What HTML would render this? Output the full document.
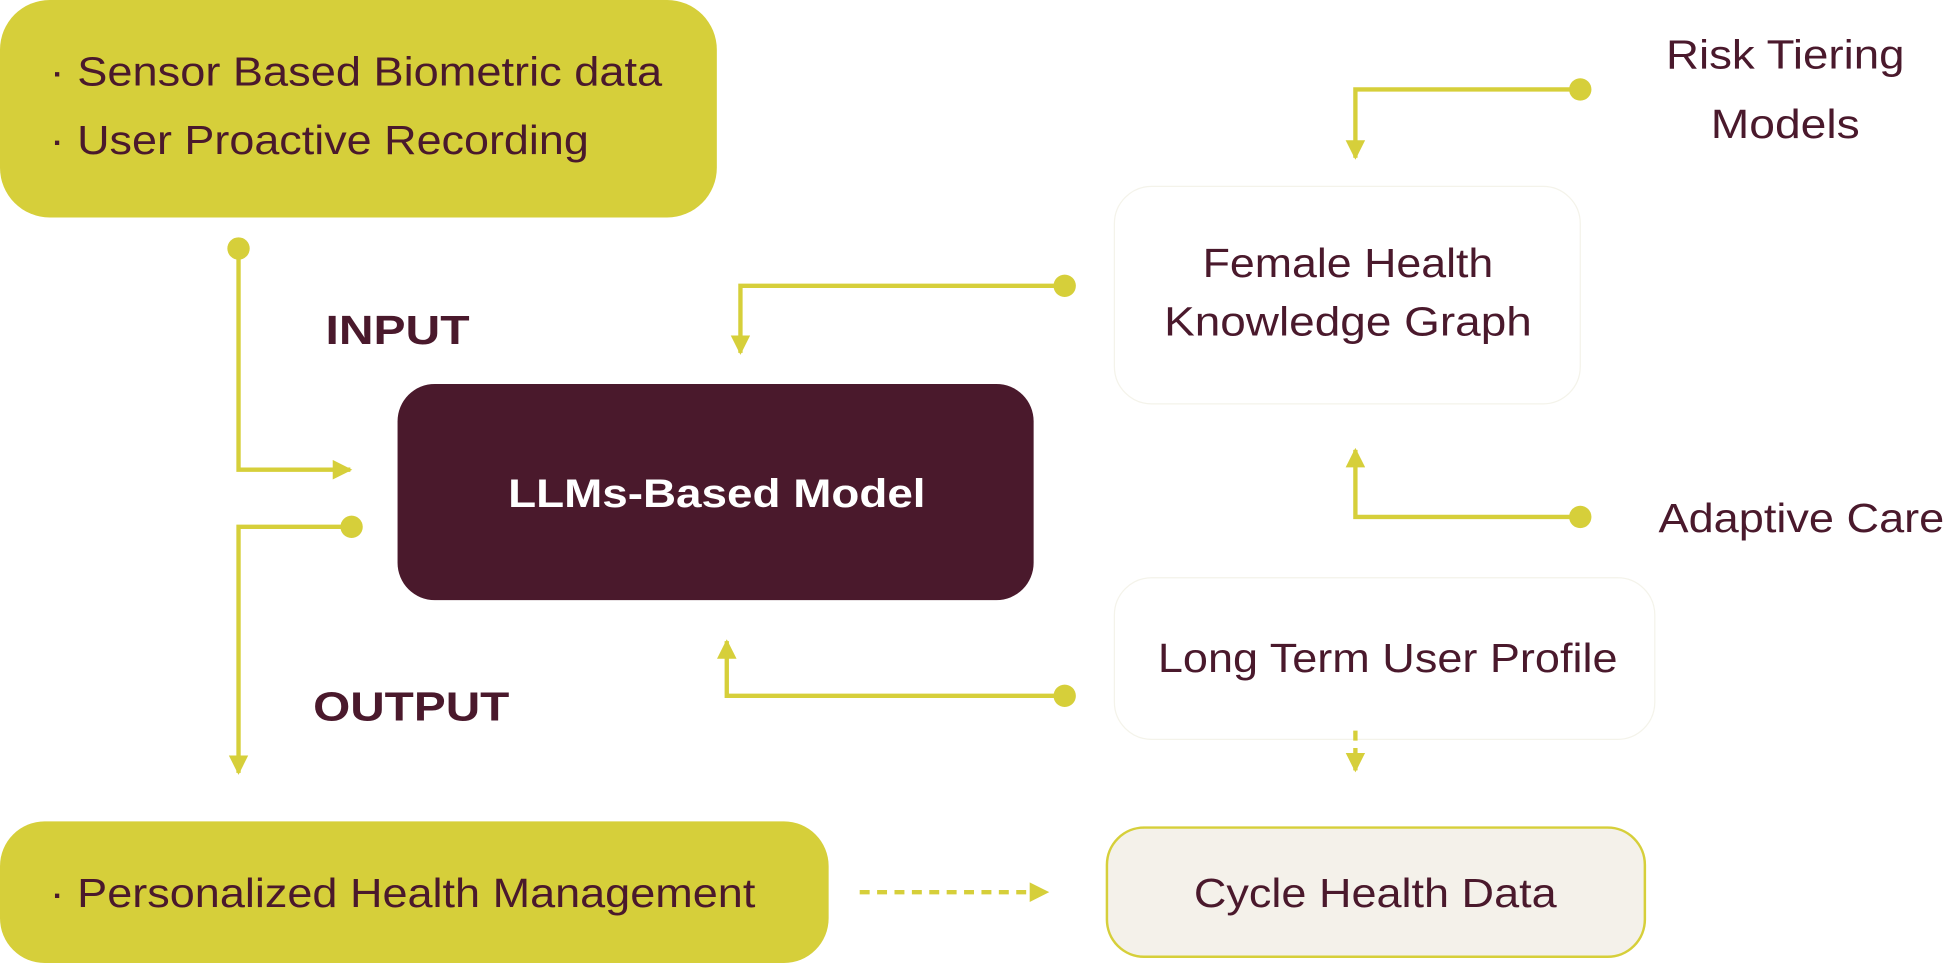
<!DOCTYPE html>
<html><head><meta charset="utf-8"><style>
html,body{margin:0;padding:0;background:#fff;width:1948px;height:963px;overflow:hidden}
svg{display:block}
text{font-family:"Liberation Sans",sans-serif}
</style></head><body>
<svg width="1948" height="963" viewBox="0 0 1568 775" preserveAspectRatio="none" xmlns="http://www.w3.org/2000/svg">
<defs>
<marker id="a" viewBox="0 0 10 10" refX="9" refY="5" markerWidth="4.5" markerHeight="4.5" orient="auto" markerUnits="strokeWidth"><path d="M0,0L10,5L0,10z" fill="#d6cf3a"/></marker>
</defs>
<g fill="none" stroke="#d6cf3a" stroke-width="3.5">
<!-- boxes -->
</g>
<rect x="0" y="0" width="577" height="175" rx="40" fill="#d6cf3a"/>
<rect x="0" y="661" width="667" height="114" rx="36" fill="#d6cf3a"/>
<rect x="320" y="309" width="512" height="174" rx="30" fill="#4a192c"/>
<rect x="891" y="666" width="433" height="104" rx="30" fill="#f4f1ea" stroke="#d6cf3a" stroke-width="2"/>
<rect x="897" y="150" width="375" height="175" rx="30" fill="#fff" stroke="#f4f3ea" stroke-width="1"/>
<rect x="897" y="465" width="435" height="130" rx="30" fill="#fff" stroke="#f4f3ea" stroke-width="1"/>

<g fill="none" stroke="#d6cf3a" stroke-width="3.5">
<path d="M192,200V378H282" marker-end="url(#a)"/>
<path d="M283,424H192V622" marker-end="url(#a)"/>
<path d="M857,230H596V284" marker-end="url(#a)"/>
<path d="M1272,72H1091V127" marker-end="url(#a)"/>
<path d="M1272,416H1091V362" marker-end="url(#a)"/>
<path d="M857,560H585V516" marker-end="url(#a)"/>
<path d="M692,718H843" stroke-dasharray="8,6" marker-end="url(#a)"/>
<path d="M1091,588V620" stroke-dasharray="8,6" marker-end="url(#a)"/>
</g>
<g fill="#d6cf3a">
<circle cx="192" cy="200" r="9"/><circle cx="283" cy="424" r="9"/>
<circle cx="857" cy="230" r="9"/><circle cx="1272" cy="72" r="9"/>
<circle cx="1272" cy="416" r="9"/><circle cx="857" cy="560" r="9"/>
</g>

<g fill="#4a192c" font-size="33">
<text x="40" y="69" textLength="493" lengthAdjust="spacingAndGlyphs">· Sensor Based Biometric data</text>
<text x="40" y="124" textLength="434" lengthAdjust="spacingAndGlyphs">· User Proactive Recording</text>
<text x="40" y="730" textLength="568" lengthAdjust="spacingAndGlyphs">· Personalized Health Management</text>
<text x="1107" y="730" text-anchor="middle" textLength="292" lengthAdjust="spacingAndGlyphs">Cycle Health Data</text>
<text x="1085" y="223" text-anchor="middle" textLength="234" lengthAdjust="spacingAndGlyphs">Female Health</text>
<text x="1085" y="270" text-anchor="middle" textLength="296" lengthAdjust="spacingAndGlyphs">Knowledge Graph</text>
<text x="1117" y="541" text-anchor="middle" textLength="370" lengthAdjust="spacingAndGlyphs">Long Term User Profile</text>
<text x="1437" y="55" text-anchor="middle" textLength="192" lengthAdjust="spacingAndGlyphs">Risk Tiering</text>
<text x="1437" y="111" text-anchor="middle" textLength="120" lengthAdjust="spacingAndGlyphs">Models</text>
<text x="1335" y="428" textLength="230" lengthAdjust="spacingAndGlyphs">Adaptive Care</text>
<text x="262" y="277" font-weight="bold" textLength="116" lengthAdjust="spacingAndGlyphs">INPUT</text>
<text x="252" y="580" font-weight="bold" textLength="158" lengthAdjust="spacingAndGlyphs">OUTPUT</text>
</g>
<text x="577" y="408" text-anchor="middle" fill="#fff" font-size="32" font-weight="bold" textLength="336" lengthAdjust="spacingAndGlyphs">LLMs-Based Model</text>
</svg>
</body></html>
